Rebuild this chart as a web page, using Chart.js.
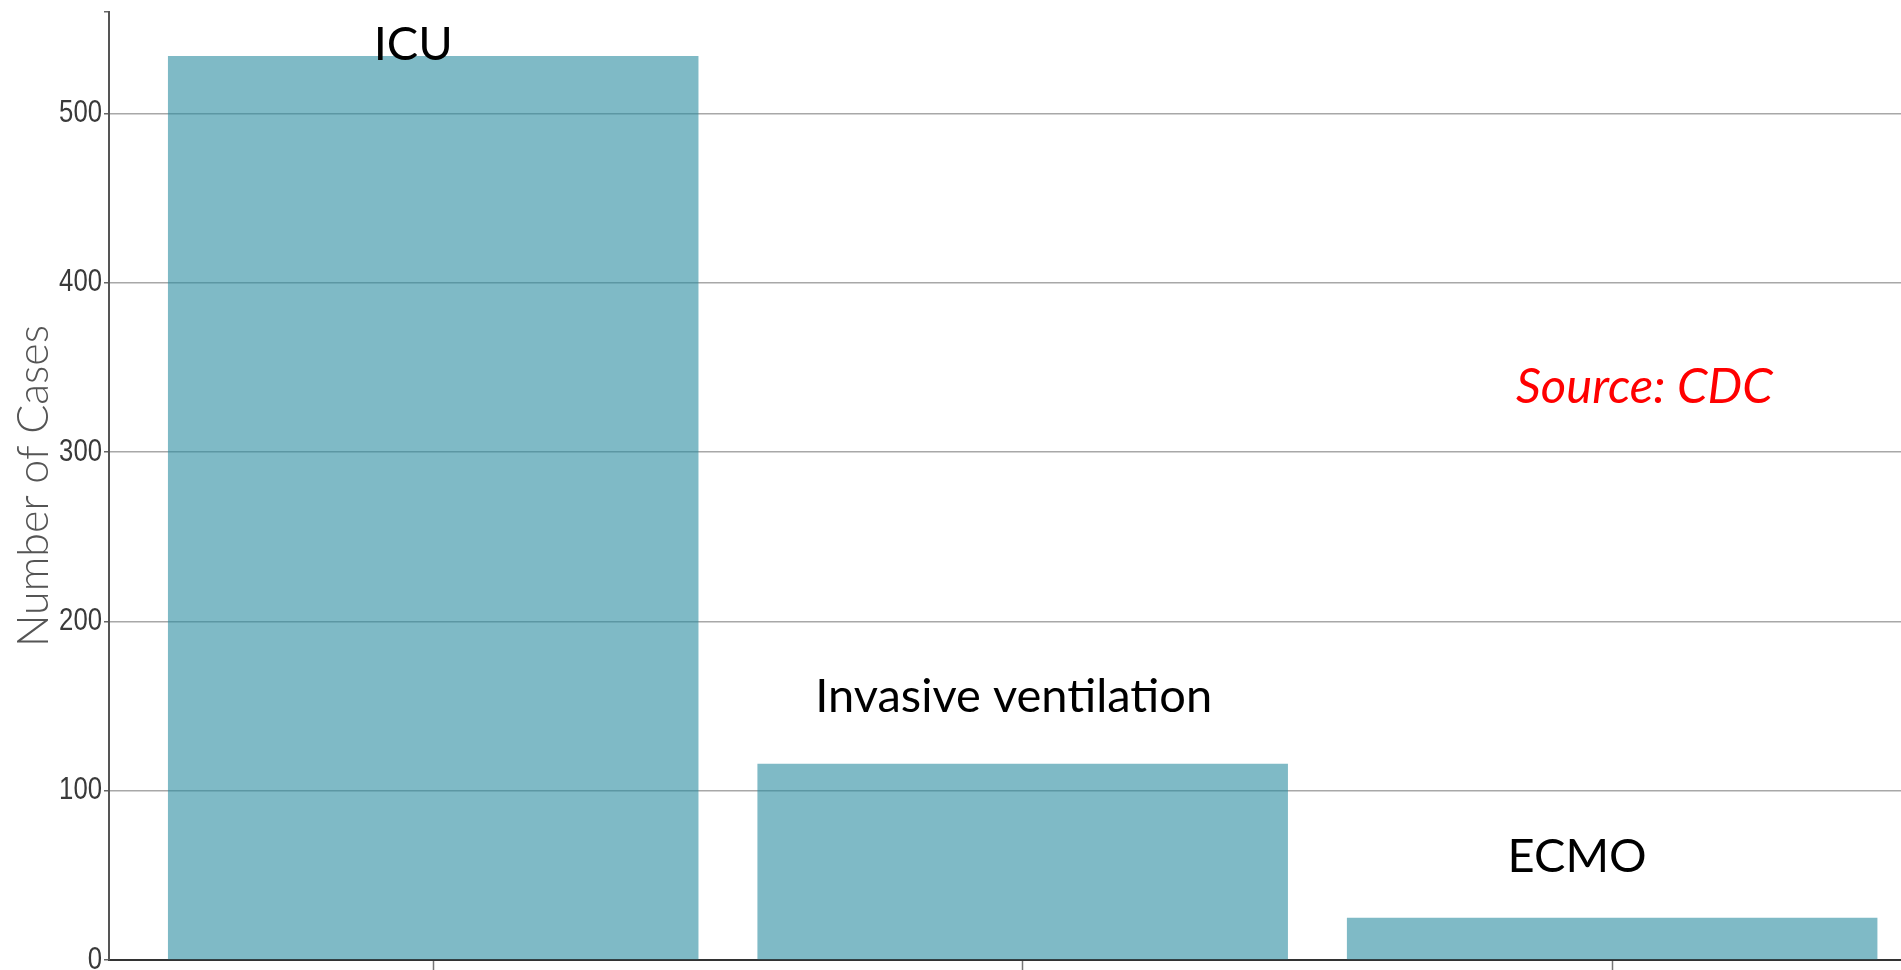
<!DOCTYPE html>
<html>
<head>
<meta charset="utf-8">
<title>Number of Cases</title>
<script src="https://cdn.jsdelivr.net/npm/chart.js@4.4.1/dist/chart.umd.min.js"></script>
<style>
    html, body { margin: 0; padding: 0; background: #fff; overflow: hidden; }
    .chart-box { position: relative; width: 1901px; height: 970px; }
</style>
</head>
<body>
<div class="chart-box"><canvas id="casesChart"></canvas></div>
<script>
const categories = ["ICU", "Invasive ventilation", "ECMO"];
const caseCounts = [534, 116, 25];
const yTickValues = [0, 100, 200, 300, 400, 500];
const yAxisMax = 560;
const yAxisTitle = "Number of Cases";
const sourceNote = "Source: CDC";

// text over each bar, plus the source note
const barNotes = {
    id: "barNotes",
    afterDatasetsDraw(chart, args, opts) {
        const { ctx, scales } = chart;
        const meta = chart.getDatasetMeta(0);
        ctx.save();
        ctx.font = opts.font;
        ctx.fillStyle = opts.color;
        ctx.textAlign = "center";
        ctx.textBaseline = "alphabetic";
        meta.data.forEach((bar, i) => {
            ctx.fillText(categories[i], bar.x + opts.dx[i], bar.y + opts.dy[i]);
        });
        ctx.font = opts.sourceFont;
        ctx.fillStyle = opts.sourceColor;
        ctx.textAlign = "left";
        ctx.fillText(sourceNote, scales.x.getPixelForValue(opts.sourceAt.x), scales.y.getPixelForValue(opts.sourceAt.y));
        ctx.restore();
    }
};

// narrow y tick labels (squeezed horizontally)
const narrowTicks = {
    id: "narrowTicks",
    afterDraw(chart, args, opts) {
        const { ctx, scales } = chart;
        const y = scales.y;
        ctx.save();
        ctx.font = opts.font;
        ctx.fillStyle = opts.color;
        ctx.textAlign = "right";
        ctx.textBaseline = "middle";
        yTickValues.forEach((v) => {
            ctx.save();
            ctx.translate(y.right - opts.gap, y.getPixelForValue(v));
            ctx.scale(opts.squeeze, 1);
            ctx.fillText(String(v), 0, 0);
            ctx.restore();
        });
        ctx.restore();
    }
};

document.addEventListener("DOMContentLoaded", () => {
    const ctx = document.getElementById("casesChart").getContext("2d");

    new Chart(ctx, {
        type: "bar",
        data: {
            datasets: [
                {
                    data: categories.map((c, i) => ({ x: i, y: caseCounts[i] })),
                    backgroundColor: "rgba(42, 140, 160, 0.6)",
                    borderWidth: 0,
                    barPercentage: 0.9,
                    categoryPercentage: 1,
                },
            ],
        },
        options: {
            responsive: true,
            maintainAspectRatio: false,
            animation: false,
            layout: { padding: { top: 12, right: 0, bottom: 0, left: 0 } },
            plugins: {
                legend: { display: false },
                tooltip: { enabled: false },
                barNotes: {
                    font: "47px Lato",
                    color: "#000",
                    dx: [-20, -9, -35],
                    dy: [4, -52, -46],
                    sourceFont: "italic 49px Lato",
                    sourceColor: "#ff0000",
                    sourceAt: { x: 1.837, y: 329 },
                },
                narrowTicks: {
                    font: "31px 'Liberation Sans', Arial",
                    color: "#3a3a3a",
                    squeeze: 0.83,
                    gap: 7,
                },
            },
            scales: {
                x: {
                    type: "linear",
                    min: -0.55,
                    max: 2.49,
                    offset: false,
                    afterBuildTicks: (scale) => {
                        scale.ticks = categories.map((c, i) => ({ value: i }));
                    },
                    afterFit: (scale) => {
                        scale.height = 10;
                        scale.paddingLeft = 0;
                        scale.paddingRight = 0;
                    },
                    ticks: { display: false },
                    grid: {
                        offset: false,
                        drawOnChartArea: false,
                        tickLength: 10,
                        tickWidth: 1.5,
                        tickColor: "#777",
                    },
                    border: { display: true, color: "#333", width: 2 },
                },
                y: {
                    min: 0,
                    max: yAxisMax,
                    afterBuildTicks: (scale) => {
                        scale.ticks = yTickValues.concat([yAxisMax]).map((v) => ({ value: v }));
                    },
                    afterFit: (scale) => {
                        scale.width = 109;
                        scale.paddingTop = 0;
                        scale.paddingBottom = 0;
                    },
                    ticks: { display: false },
                    grid: {
                        color: (c) => (c.tick && c.tick.value === yAxisMax ? "rgba(0,0,0,0)" : "#a8a8a8"),
                        lineWidth: 1.5,
                        tickLength: 5,
                        tickColor: "#666",
                    },
                    border: { display: true, color: "#555", width: 2 },
                    title: {
                        display: true,
                        text: yAxisTitle,
                        color: "#555",
                        font: { family: "Lato", weight: "300", size: 43 },
                        padding: { top: 8, bottom: 0 },
                    },
                },
            },
        },
        plugins: [barNotes, narrowTicks],
    });
});
</script>
</body>
</html>
